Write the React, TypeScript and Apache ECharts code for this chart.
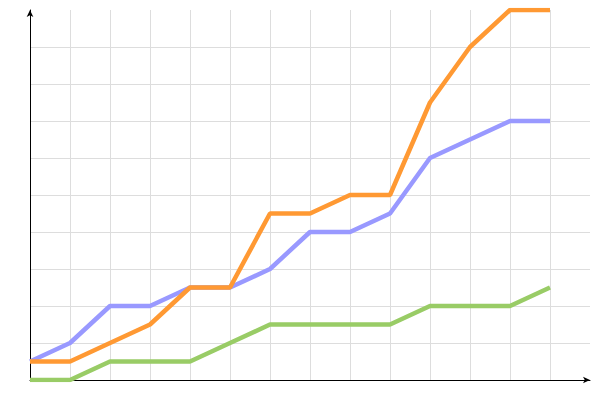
import React, { useEffect, useRef } from "react";
import * as echarts from "echarts";

const xIndex = [0, 1, 2, 3, 4, 5, 6, 7, 8, 9, 10, 11, 12, 13];
const blueValues = [0.5, 1, 2, 2, 2.5, 2.5, 3, 4, 4, 4.5, 6, 6.5, 7, 7];
const orangeValues = [0.5, 0.5, 1, 1.5, 2.5, 2.5, 4.5, 4.5, 5, 5, 7.5, 9, 10, 10];
const greenValues = [0, 0, 0.5, 0.5, 0.5, 1, 1.5, 1.5, 1.5, 1.5, 2, 2, 2, 2.5];

const pairs = (vals: number[]) => xIndex.map((x, i) => [x, vals[i]]);

export default function App() {
  const ref = useRef<HTMLDivElement>(null);
  useEffect(() => {
    if (!ref.current) return;
    const chart = echarts.init(ref.current, null, { renderer: "svg" });
    const axisLine = {
      show: true,
      lineStyle: { color: "#000", width: 1 },
      symbol: ["none", "arrow"],
      symbolSize: [5, 7],
    };
    const splitLine = {
      show: true,
      showMinLine: false,
      showMaxLine: false,
      lineStyle: { color: "#dddddd", width: 1 },
    };
    chart.setOption({
      animation: false,
      grid: { left: 30, right: 10, top: 10, bottom: 20, containLabel: false },
      xAxis: {
        type: "value",
        min: 0,
        max: 14,
        interval: 1,
        axisLine,
        axisTick: { show: false },
        axisLabel: { show: false },
        splitLine,
      },
      yAxis: {
        type: "value",
        min: 0,
        max: 10,
        interval: 1,
        axisLine,
        axisTick: { show: false },
        axisLabel: { show: false },
        splitLine,
      },
      series: [
        {
          type: "line",
          data: pairs(greenValues),
          showSymbol: false,
          lineStyle: { color: "#99cc66", width: 4.5 },
          itemStyle: { color: "#99cc66" },
        },
        {
          type: "line",
          data: pairs(blueValues),
          showSymbol: false,
          lineStyle: { color: "#9999ff", width: 4.5 },
          itemStyle: { color: "#9999ff" },
        },
        {
          type: "line",
          data: pairs(orangeValues),
          showSymbol: false,
          lineStyle: { color: "#ff9933", width: 4.5 },
          itemStyle: { color: "#ff9933" },
        },
      ],
    });
    return () => chart.dispose();
  }, []);
  return <div ref={ref} style={{ width: 600, height: 400, position: "absolute", left: 0, top: 0 }} />;
}
